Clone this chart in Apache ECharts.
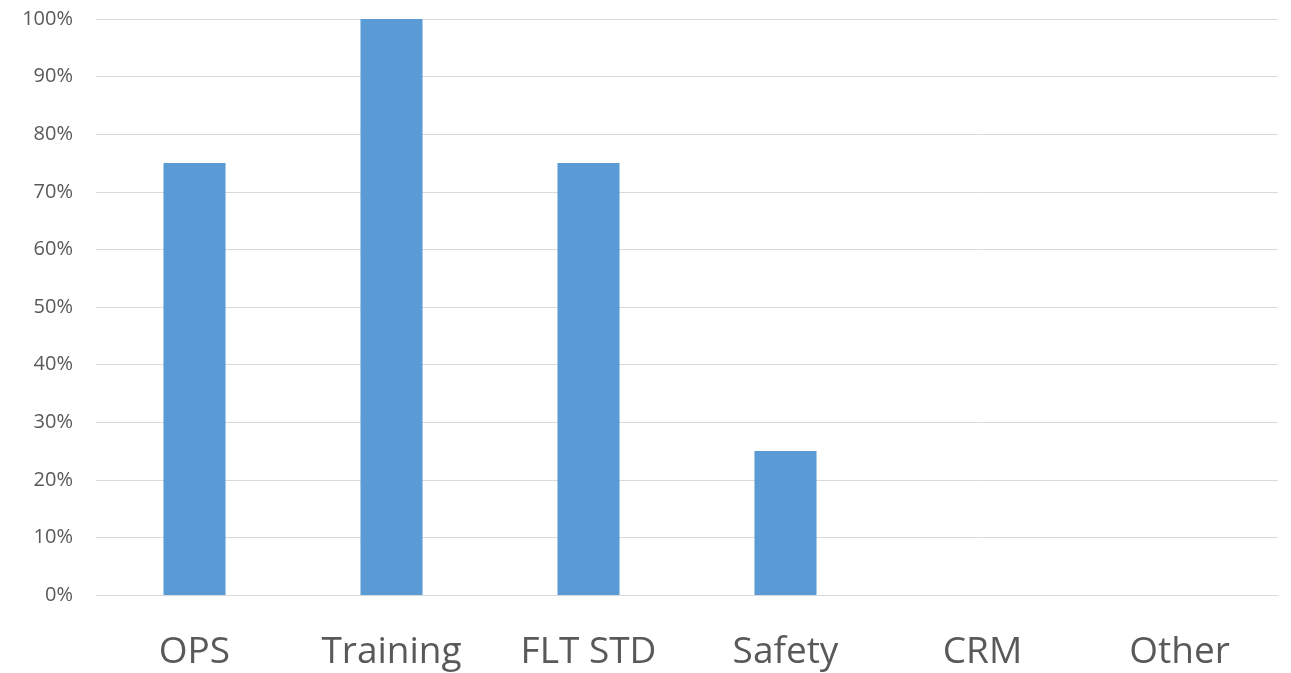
<!DOCTYPE html>
<html><head><meta charset="utf-8">
<script src="https://cdn.jsdelivr.net/npm/echarts@6/dist/echarts.min.js"></script>
<style>html,body{margin:0;padding:0;background:#fff}#c{width:1291px;height:673px}</style>
</head><body><div id="c"></div>
<script>
const categories = ['OPS', 'Training', 'FLT STD', 'Safety', 'CRM', 'Other'];
const values = [75, 100, 75, 25, 0, 0];
const chart = echarts.init(document.getElementById('c'));
chart.setOption({
  animation: false,
  grid: { left: 96, right: 13, top: 19, bottom: 78 },
  xAxis: {
    type: 'category', data: categories,
    axisLine: { show: true, lineStyle: { color: '#d9d9d9', width: 1 } },
    axisTick: { show: false },
    axisLabel: { color: '#595959', fontSize: 37, fontFamily: 'Open Sans', margin: 39 }
  },
  yAxis: {
    type: 'value', min: 0, max: 100, interval: 10,
    axisLine: { show: false }, axisTick: { show: false },
    splitLine: { lineStyle: { color: '#d9d9d9', width: 1 } },
    axisLabel: { color: '#595959', fontSize: 20, fontFamily: 'Open Sans', margin: 23, formatter: '{value}%' }
  },
  series: [{
    type: 'bar', data: values, barWidth: '31.5%',
    itemStyle: { color: '#5b9bd5' }
  }]
});
</script></body></html>
